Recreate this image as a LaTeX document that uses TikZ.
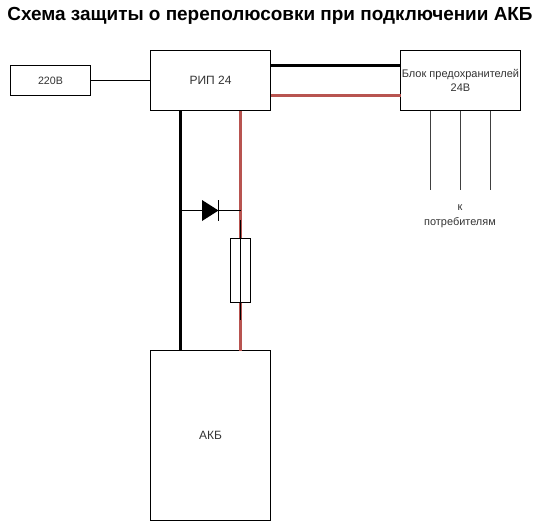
\documentclass[tikz,border=0pt]{standalone}
\usepackage{fontspec}
\setmainfont{Liberation Sans}
\definecolor{wirered}{HTML}{B85450}
\definecolor{txt}{HTML}{333333}
\begin{document}
\begin{tikzpicture}[x=0.75pt,y=-0.75pt,
  boxn/.style={draw=black,line width=0.75pt,fill=white,inner sep=0pt,outer sep=0pt,align=center,text=txt,font=\fontsize{9pt}{11.25pt}\selectfont},
  thin wire/.style={draw=black,line width=0.75pt},
  thick black/.style={draw=black,line width=2.25pt},
  thick red/.style={draw=wirered,line width=2.25pt},
  lead/.style={draw=black!75,line width=0.75pt},
  lbl/.style={inner sep=0pt,outer sep=0pt,align=center,text=txt,font=\fontsize{8.2pt}{11pt}\selectfont}]
\useasboundingbox (0,0) rectangle (540,521);
\node[inner sep=0pt,font=\bfseries\fontsize{14.2pt}{16pt}\selectfont] (title) at (270,16) {Схема защиты о переполюсовки при подключении АКБ};
% wires first, boxes on top
\coordinate (bl1) at (180.5,110.5);
\coordinate (bl2) at (180.5,350.5);
\coordinate (rd1) at (240.5,110.5);
\coordinate (rd2) at (240.5,350.5);
\coordinate (h1a) at (270.5,65.5);
\coordinate (h1b) at (400.5,65.5);
\coordinate (h2a) at (270.5,95.5);
\coordinate (h2b) at (400.5,95.5);
\node[boxn,minimum width=80*0.75pt,minimum height=30*0.75pt,font=\fontsize{8pt}{10pt}\selectfont] (src) at (50.5,80.5) {220В};
\node[boxn,minimum width=120*0.75pt,minimum height=60*0.75pt] (rip) at (210.5,80.5) {РИП 24};
\node[boxn,minimum width=120*0.75pt,minimum height=60*0.75pt,font=\fontsize{8.25pt}{11pt}\selectfont] (blk) at (460.5,80.5) {Блок предохранителей\\24В};
\node[boxn,minimum width=120*0.75pt,minimum height=170*0.75pt] (akb) at (210.5,435.5) {АКБ};
\draw[thin wire] (src) -- (rip);
\draw[thick black] (h1a) -- (h1b);
\draw[thick red] (h2a) -- (h2b);
\draw[thick black] (bl1) -- (bl2);
\draw[thick red] (rd1) -- (rd2);
% fuse
\coordinate (fa) at (240.5,220);
\coordinate (fb) at (240.5,320);
\node[draw=black,line width=0.75pt,fill=white,inner sep=0pt,outer sep=0pt,minimum width=20*0.75pt,minimum height=64*0.75pt] (fuse) at (240.5,270.5) {};
\draw[thin wire] (fa) -- (fb);
% diode
\coordinate (dj1) at (181,210.5);
\coordinate (dj2) at (240.5,210.5);
\coordinate (dc) at (218.5,210.5);
\coordinate (dt) at (218.5,200);
\coordinate (db) at (218.5,221);
\draw[thin wire] (dj1) -- (dj2);
\fill[black] (202,200) coordinate (dp1) -- (218.5,210.5) -- (202,221) coordinate (dp2) -- cycle;
\draw[thin wire] (dt) -- (db);
% consumer leads
\coordinate (c1) at (430.5,190);
\coordinate (c2) at (460.5,190);
\coordinate (c3) at (490.5,190);
\draw[lead] (blk.south -| c1) -- (c1);
\draw[lead] (blk.south -| c2) -- (c2);
\draw[lead] (blk.south -| c3) -- (c3);
\node[lbl] (cons) at (460,216) {к\\потребителям};
\end{tikzpicture}
\end{document}
